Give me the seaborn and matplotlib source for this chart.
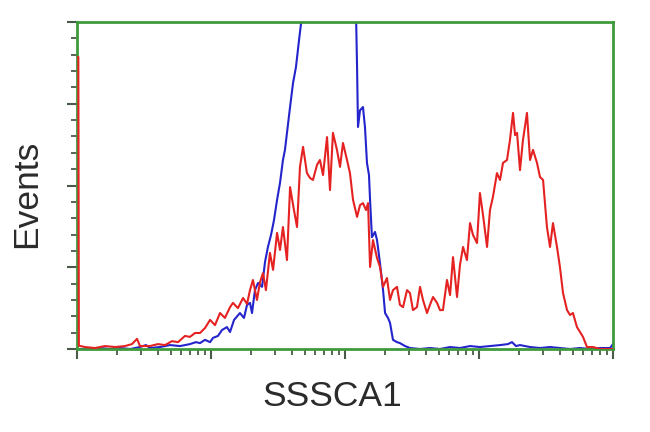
import numpy as np
import pandas as pd
import matplotlib
matplotlib.use("Agg")
import matplotlib.pyplot as plt
import seaborn as sns
from matplotlib.ticker import LogLocator, MultipleLocator, NullFormatter

# ---- data (log10 intensity, events as % of axis max) ----
red_log = [0.006, 0.010, 0.014, 0.060, 0.134, 0.209, 0.284, 0.358, 0.410, 0.448, 0.470,
           0.545, 0.604, 0.657, 0.709, 0.754, 0.806, 0.843, 0.881, 0.918, 0.955,
           0.993, 1.030, 1.067, 1.104, 1.142, 1.164, 1.201, 1.239, 1.269, 1.291,
           1.313, 1.343, 1.366, 1.388, 1.410, 1.440, 1.463, 1.493, 1.515, 1.537,
           1.567, 1.590, 1.619, 1.642, 1.664, 1.687, 1.716, 1.739, 1.761, 1.791,
           1.813, 1.836, 1.866, 1.888, 1.910, 1.940, 1.963, 1.985, 2.015, 2.037,
           2.060, 2.090, 2.112, 2.134, 2.157, 2.172, 2.187, 2.209, 2.239, 2.261,
           2.284, 2.313, 2.336, 2.358, 2.388, 2.410, 2.433, 2.463, 2.485, 2.507,
           2.537, 2.560, 2.582, 2.612, 2.634, 2.657, 2.687, 2.709, 2.731, 2.761,
           2.784, 2.806, 2.836, 2.858, 2.881, 2.910, 2.933, 2.955, 2.985, 3.007,
           3.030, 3.060, 3.082, 3.104, 3.134, 3.157, 3.179, 3.209, 3.231, 3.254,
           3.269, 3.284, 3.306, 3.328, 3.358, 3.381, 3.403, 3.433, 3.455, 3.478,
           3.507, 3.530, 3.552, 3.582, 3.604, 3.627, 3.657, 3.679, 3.701, 3.731,
           3.754, 3.776, 3.806, 3.851, 3.903, 4.0]
red_events = [89.3, 89.3, 1.0, 0.6, 0.3, 0.9, 0.6, 0.9, 1.5, 3.1, 0.9,
              0.9, 1.5, 1.2, 2.4, 2.1, 4.0, 3.7, 4.9, 4.9, 6.4,
              8.9, 7.3, 11.0, 9.5, 12.8, 14.1, 12.5, 15.6, 13.8, 18.0,
              21.1, 15.0, 20.5, 23.2, 18.0, 29.4, 24.2, 35.5, 30.3, 37.3,
              27.2, 49.5, 42.5, 37.3, 55.7, 61.8, 53.8, 52.3, 51.7, 56.3,
              57.8, 53.2, 64.8, 48.6, 66.1, 60.9, 55.7, 63.0, 57.8, 53.8,
              45.6, 40.4, 44.0, 44.6, 42.5, 44.6, 25.1, 33.3, 27.8, 25.1,
              19.0, 21.7, 15.0, 18.0, 19.0, 13.5, 12.8, 18.0, 17.1, 11.9,
              12.8, 19.0, 15.0, 11.0, 13.5, 15.9, 14.1, 11.9, 11.9, 21.1,
              16.5, 28.1, 15.9, 25.7, 31.2, 27.2, 38.5, 34.9, 32.4, 47.7,
              41.0, 31.2, 42.5, 46.5, 53.8, 51.7, 56.9, 57.8, 63.9, 72.2,
              65.4, 66.1, 54.7, 63.9, 72.2, 57.8, 60.9, 56.9, 52.6, 51.7,
              37.3, 31.2, 38.5, 31.2, 25.1, 17.1, 11.9, 10.4, 11.0, 6.7,
              5.2, 3.7, 0.6, 0.6, 0.0, 0.0]

blue_log = [0.0, 0.097, 0.172, 0.246, 0.321, 0.396, 0.470, 0.515, 0.545, 0.619,
            0.694, 0.769, 0.843, 0.888, 0.918, 0.955, 0.993, 1.015, 1.052, 1.082,
            1.119, 1.142, 1.172, 1.216, 1.246, 1.269, 1.291, 1.306, 1.328, 1.351,
            1.381, 1.403, 1.425, 1.448, 1.470, 1.493, 1.515, 1.537, 1.552, 1.567,
            1.590, 1.612, 1.634, 1.657, 1.679, 1.739, 1.813, 1.888, 1.963, 2.037,
            2.075, 2.082, 2.090, 2.097, 2.112, 2.134, 2.149, 2.164, 2.179, 2.187,
            2.201, 2.224, 2.239, 2.261, 2.284, 2.299, 2.321, 2.336, 2.358, 2.388,
            2.410, 2.448, 2.485, 2.560, 2.634, 2.709, 2.784, 2.858, 2.933, 3.007,
            3.082, 3.157, 3.216, 3.246, 3.276, 3.306, 3.381, 3.455, 3.530, 3.604,
            3.679, 3.754, 3.828, 3.903, 3.978, 4.0]
blue_events = [0.0, 0.0, 0.3, 0.0, 0.3, 0.0, 0.6, 1.2, 0.3, 0.6,
               1.2, 0.9, 1.5, 2.1, 1.8, 2.8, 2.1, 3.4, 4.0, 5.8,
               6.7, 5.2, 8.9, 11.0, 9.5, 13.5, 14.1, 11.0, 18.0, 20.2,
               19.0, 26.6, 31.2, 34.9, 39.4, 45.6, 50.8, 57.8, 60.9, 66.1,
               74.0, 81.3, 86.2, 94.5, 102.0, 120.0, 130.0, 135.0, 128.0, 115.0,
               104.0, 103.0, 86.2, 67.9, 73.0, 74.0, 67.9, 56.9, 53.2, 45.6,
               34.2, 35.8, 33.3, 26.3, 18.0, 11.0, 9.5, 8.0, 2.8, 2.1,
               1.8, 0.9, 0.3, 0.0, 0.3, 0.0, 0.6, 0.3, 0.9, 0.6,
               0.9, 1.2, 1.5, 2.1, 0.9, 1.2, 0.6, 0.3, 0.6, 0.3,
               0.0, 0.3, 0.0, 0.3, 0.3, 1.5]

x_label = "SSSCA1"
y_label = "Events"

red_df = pd.DataFrame({"intensity": np.power(10.0, red_log), "events": red_events})
blue_df = pd.DataFrame({"intensity": np.power(10.0, blue_log), "events": blue_events})

sns.set_style("white")
plt.rcParams["font.family"] = ["Liberation Sans", "DejaVu Sans"]

fig = plt.figure(figsize=(6.5, 4.32), dpi=100)
ax = fig.add_axes([77 / 650, 1 - 349 / 432, 536 / 650, 327 / 432])

sns.lineplot(data=red_df, x="intensity", y="events", sort=False, ax=ax,
             color="#e52222", linewidth=1.5, estimator=None)
sns.lineplot(data=blue_df, x="intensity", y="events", sort=False, ax=ax,
             color="#2424cc", linewidth=1.5, estimator=None)
# draw the red trace (with its edge spike) above the spines
ax.lines[0].set_zorder(3)

ax.set_xscale("log")
ax.set_xlim(1, 1e4)
ax.set_ylim(0, 100)

ax.xaxis.set_major_locator(LogLocator(base=10, numticks=10))
ax.xaxis.set_minor_locator(LogLocator(base=10, subs=np.arange(2, 10), numticks=100))
ax.xaxis.set_major_formatter(NullFormatter())
ax.xaxis.set_minor_formatter(NullFormatter())
ax.yaxis.set_major_locator(MultipleLocator(25))
ax.yaxis.set_minor_locator(MultipleLocator(5))
ax.yaxis.set_major_formatter(NullFormatter())

tick_color = "#4a5a48"
ax.tick_params(axis="both", which="major", direction="out", length=7, width=1.5,
               color=tick_color, bottom=True, left=True)
ax.tick_params(axis="both", which="minor", direction="out", length=4, width=1.3,
               color=tick_color, bottom=True, left=True)

for s in ax.spines.values():
    s.set_color("#3f9a3c")
    s.set_linewidth(2.0)
    s.set_visible(True)

ax.set_xlabel("")
ax.set_ylabel("")
fig.text(332 / 650, 1 - 396 / 432, x_label, ha="center", va="center",
         fontsize=25.5, color="#2b2b2b")
fig.text(27 / 650, 1 - 194 / 432, y_label, ha="center", va="center",
         rotation=90, fontsize=25.5, color="#2b2b2b")

fig.savefig("out.png", dpi=100)
